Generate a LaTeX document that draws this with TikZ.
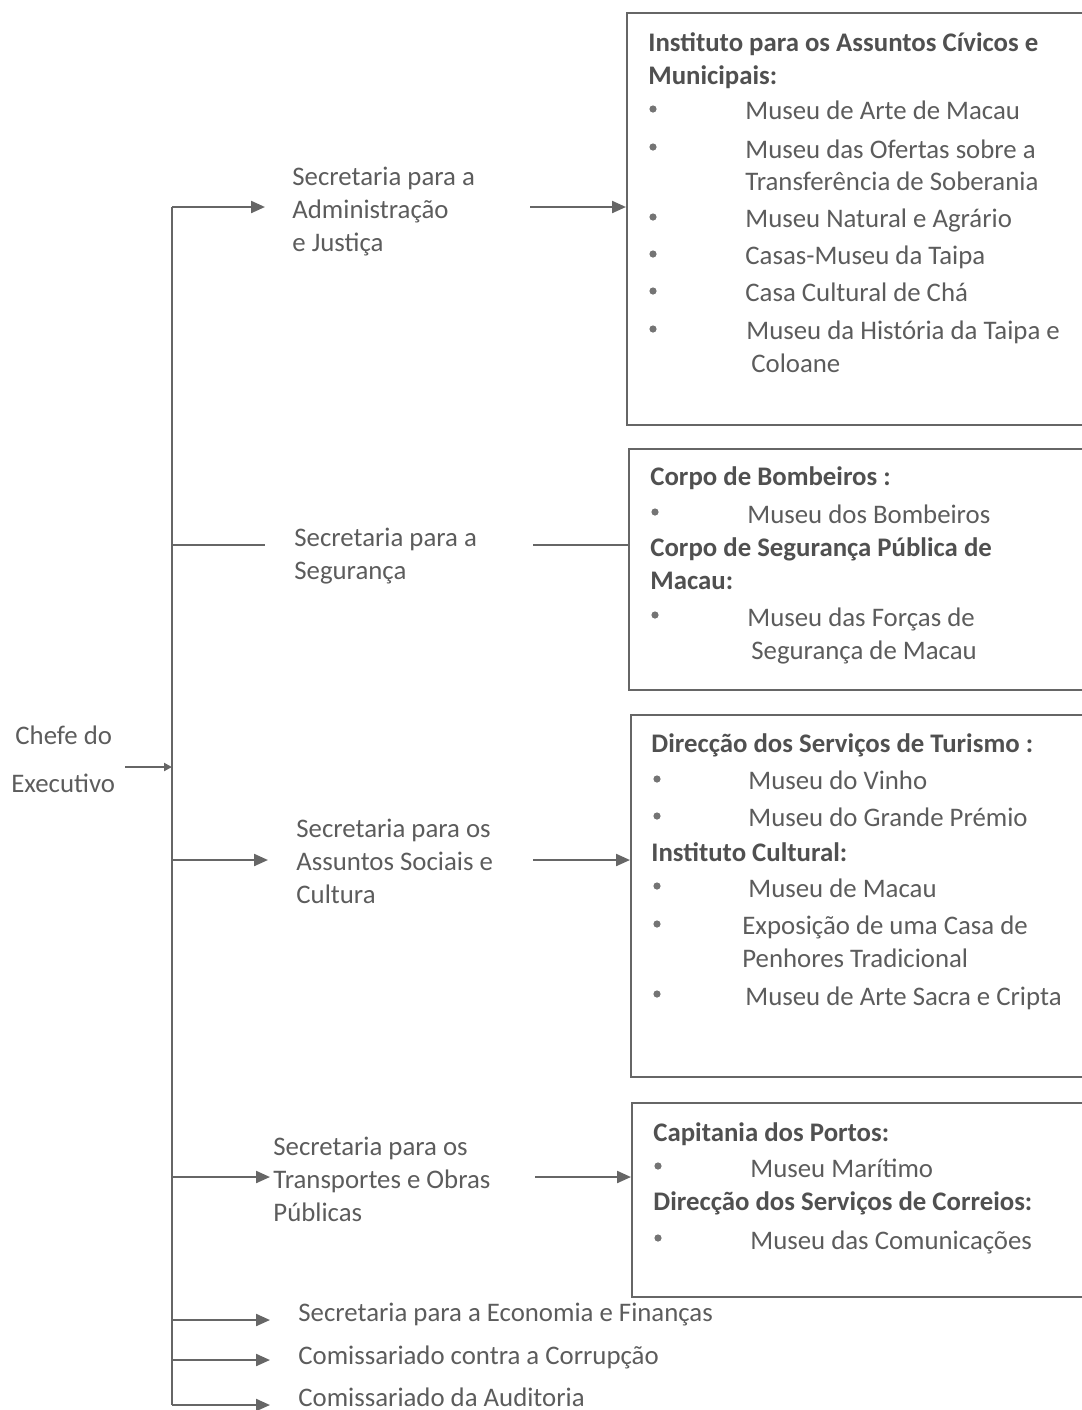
\documentclass[tikz,border=0pt]{standalone}
\usepackage{fontspec}
\setmainfont{Carlito}
\usetikzlibrary{arrows.meta,fit}
\definecolor{txtgray}{HTML}{5C5C5C}
\definecolor{headgray}{HTML}{505050}
\definecolor{linegray}{HTML}{666666}
\tikzset{
  txt/.style={font=\fontsize{13.4}{16}\selectfont, text=txtgray, inner sep=0pt, anchor=base west},
  head/.style={txt, font={\fontsize{13.4}{16}\selectfont\bfseries}, text=headgray},
  dot/.style={circle, fill=txtgray!85, inner sep=0pt, minimum size=3.6pt},
  orgbox/.style={draw=linegray, line width=1pt, inner sep=0pt},
  conn/.style={draw=linegray, line width=1.1pt},
  arr/.style={conn, -{Triangle[length=7pt,width=6pt]}},
}

\begin{document}
\begin{tikzpicture}[x=0.5pt, y=-0.5pt]
\useasboundingbox (0,0) rectangle (1082,1410);
\clip (0,0) rectangle (1082,1410);

% chefe
\node[txt] (chefa) at (15,744) {Chefe do};
\node[txt] (chefb) at (11,792) {Executivo};
\coordinate (c0) at (125,767);
\coordinate (c1) at (172,767);
\draw[conn, -{Triangle[length=4pt,width=4pt]}] (c0) -- (c1);

% trunk and branches
\coordinate (t1) at (172,207);
\coordinate (t2) at (172,545);
\coordinate (t3) at (172,860);
\coordinate (t4) at (172,1177);
\coordinate (t5) at (172,1320);
\coordinate (t6) at (172,1360);
\coordinate (t7) at (172,1405);
\draw[conn] (t1) -- (t7);
\coordinate (a1) at (265,207);
\coordinate (a2) at (265,545);
\coordinate (a3) at (268,860);
\coordinate (a4) at (270,1177);
\coordinate (a5) at (270,1320);
\coordinate (a6) at (270,1360);
\coordinate (a7) at (270,1405);
\draw[arr] (t1) -- (a1);
\draw[conn] (t2) -- (a2);
\foreach \i in {3,...,7}
  \draw[arr] (t\i) -- (a\i);

% secretarias
\node[txt] (s1a) at (292,185) {Secretaria para a};
\node[txt] (s1b) at (292,218) {Administração};
\node[txt] (s1c) at (292,251) {e Justiça};
\node[txt] (s2a) at (294,546) {Secretaria para a};
\node[txt] (s2b) at (294,579) {Segurança};
\node[txt] (s3a) at (296,837) {Secretaria para os};
\node[txt] (s3b) at (296,870) {Assuntos Sociais e};
\node[txt] (s3c) at (296,903) {Cultura};
\node[txt] (s4a) at (273,1155) {Secretaria para os};
\node[txt] (s4b) at (273,1188) {Transportes e Obras};
\node[txt] (s4c) at (273,1221) {Públicas};
\node[txt] (s5) at (298,1321) {Secretaria para a Economia e Finanças};
\node[txt] (s6) at (298,1364) {Comissariado contra a Corrupção};
\node[txt] (s7) at (298,1406) {Comissariado da Auditoria};

% boxes
\node[orgbox, fit={(627,13) (1090,425)}] (b1) {};
\node[orgbox, fit={(629,449) (1090,690)}] (b2) {};
\node[orgbox, fit={(631,715) (1090,1077)}] (b3) {};
\node[orgbox, fit={(632,1103) (1090,1297)}] (b4) {};
\coordinate (r1) at (530,207);
\coordinate (r2) at (533,545);
\coordinate (r3) at (533,860);
\coordinate (r4) at (535,1177);
\draw[arr] (r1) -- (b1.west |- r1);
\draw[conn] (r2) -- (b2.west |- r2);
\draw[arr] (r3) -- (b3.west |- r3);
\draw[arr] (r4) -- (b4.west |- r4);

% box 1
\node[head] (h1a) at (648,51) {Instituto para os Assuntos Cívicos e};
\node[head] (h1b) at (648,84) {Municipais:};
\foreach \y [count=\i] in {109,147,217,254,291,329}
  \node[dot] (d1\i) at (653,\y) {};
\node[txt] (m1a) at (745,119) {Museu de Arte de Macau};
\node[txt] (m1b) at (745,158) {Museu das Ofertas sobre a};
\node[txt] (m1c) at (745,190) {Transferência de Soberania};
\node[txt] (m1d) at (745,227) {Museu Natural e Agrário};
\node[txt] (m1e) at (745,264) {Casas-Museu da Taipa};
\node[txt] (m1f) at (745,301) {Casa Cultural de Chá};
\node[txt] (m1g) at (746,339) {Museu da História da Taipa e};
\node[txt] (m1h) at (751,372) {Coloane};

% box 2
\node[head] (h2a) at (650,485) {Corpo de Bombeiros :};
\node[head] (h2b) at (650,556) {Corpo de Segurança Pública de};
\node[head] (h2c) at (650,589) {Macau:};
\foreach \y [count=\i] in {512,615}
  \node[dot] (d2\i) at (655,\y) {};
\node[txt] (m2a) at (747,523) {Museu dos Bombeiros};
\node[txt] (m2b) at (747,626) {Museu das Forças de};
\node[txt] (m2c) at (751,659) {Segurança de Macau};

% box 3
\node[head] (h3a) at (651,752) {Direcção dos Serviços de Turismo :};
\node[head] (h3b) at (651,861) {Instituto Cultural:};
\foreach \y [count=\i] in {779,816,886,924,994}
  \node[dot] (d3\i) at (657,\y) {};
\node[txt] (m3a) at (748,789) {Museu do Vinho};
\node[txt] (m3b) at (748,826) {Museu do Grande Prémio};
\node[txt] (m3c) at (748,897) {Museu de Macau};
\node[txt] (m3d) at (742,934) {Exposição de uma Casa de};
\node[txt] (m3e) at (742,967) {Penhores Tradicional};
\node[txt] (m3f) at (745,1005) {Museu de Arte Sacra e Cripta};

% box 4
\node[head] (h4a) at (653,1141) {Capitania dos Portos:};
\node[head] (h4b) at (653,1210) {Direcção dos Serviços de Correios:};
\foreach \y [count=\i] in {1166,1238}
  \node[dot] (d4\i) at (658,\y) {};
\node[txt] (m4a) at (750,1177) {Museu Marítimo};
\node[txt] (m4b) at (750,1249) {Museu das Comunicações};
\end{tikzpicture}
\end{document}
